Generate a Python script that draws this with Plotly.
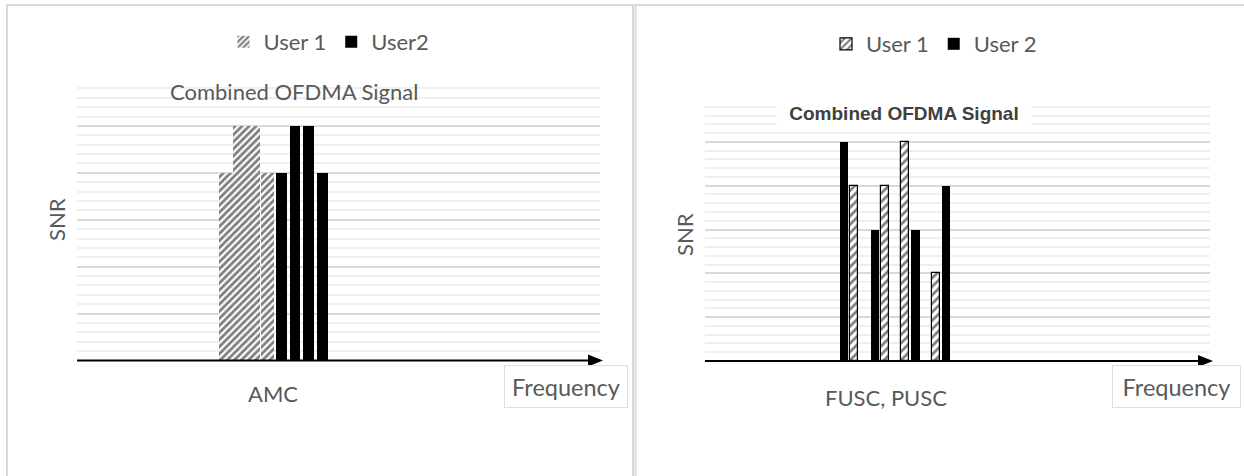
import plotly.graph_objects as go

W, H = 1244, 476

# ---------------- data ----------------
left_slots = ["SC1", "SC2", "SC3", "SC4", "SC5", "SC6", "SC7", "SC8"]
left_user1 = [4, 5, 5, 4, None, None, None, None]
left_user2 = [None, None, None, None, 4, 5, 5, 4]

right_slots = ["SC1", "SC2", "SC3", "SC4", "SC5", "SC6", "SC7", "SC8", "SC9", "SC10", "SC11"]
right_user1 = [None, 4, None, None, 4, None, 5, None, None, 2, None]
right_user2 = [5, None, None, 3, None, None, None, 3, None, None, 4]

left_names = ["User 1", "User2"]
right_names = ["User 1", "User 2"]
left_category = "AMC"
right_category = "FUSC, PUSC"
title_text = "Combined OFDMA Signal"
y_title = "SNR"
x_title = "Frequency"


def px(x):
    return x / W


def py(y):
    return 1 - y / H


GRAY = "#595959"
FONT = "Lato"

fig = go.Figure()

# left panel bars
fig.add_trace(go.Bar(
    x=left_slots, y=left_user1, name=left_names[0], width=0.97,
    marker=dict(color="white", line=dict(width=0),
                pattern=dict(shape="/", fgcolor="black", bgcolor="white", size=5, solidity=0.55)),
    xaxis="x", yaxis="y", legend="legend"))
fig.add_trace(go.Bar(
    x=left_slots, y=left_user2, name=left_names[1], width=0.78,
    marker=dict(color="black", line=dict(width=0)),
    xaxis="x", yaxis="y", legend="legend"))

# right panel bars
fig.add_trace(go.Bar(
    x=right_slots, y=right_user1, name=right_names[0], width=0.82,
    marker=dict(color="white", line=dict(width=1.2, color="black"),
                pattern=dict(shape="/", fgcolor="black", bgcolor="white", size=6, solidity=0.45)),
    xaxis="x2", yaxis="y2", legend="legend2"))
fig.add_trace(go.Bar(
    x=right_slots, y=right_user2, name=right_names[1], width=0.8,
    marker=dict(color="black", line=dict(width=0)),
    xaxis="x2", yaxis="y2", legend="legend2"))

yaxis_common = dict(
    range=[0, 6], dtick=1, showgrid=True, gridcolor="#d9d9d9", gridwidth=2,
    minor=dict(dtick=0.2, showgrid=True, gridcolor="#efefef", gridwidth=1.5),
    showticklabels=False, ticks="", zeroline=False, showline=False,
)
xaxis_common = dict(type="category", showticklabels=False, ticks="", showgrid=False,
                    zeroline=False, showline=False)

L_x0, L_x1, L_y0, L_y1 = 77, 600, 360.5, 79
R_x0, R_x1, R_y0, R_y1 = 705, 1210, 361, 98

fig.update_layout(
    width=W, height=H,
    margin=dict(l=0, r=0, t=0, b=0),
    paper_bgcolor="white", plot_bgcolor="white",
    barmode="overlay", bargap=0,
    xaxis=dict(domain=[px(L_x0), px(L_x1)], range=[-10.80, 27.10], anchor="y", **xaxis_common),
    yaxis=dict(domain=[py(L_y0), py(L_y1)], anchor="x", **yaxis_common),
    xaxis2=dict(domain=[px(R_x0), px(R_x1)], range=[-13.63, 35.88], anchor="y2", **xaxis_common),
    yaxis2=dict(domain=[py(R_y0), py(R_y1)], anchor="x2", **yaxis_common),
    legend=dict(orientation="h", x=px(329), xanchor="center", y=py(42), yanchor="middle",
                font=dict(family=FONT, size=22, color=GRAY), bgcolor="rgba(0,0,0,0)",
                itemclick=False, itemdoubleclick=False),
    legend2=dict(orientation="h", x=px(934), xanchor="center", y=py(44), yanchor="middle",
                 font=dict(family=FONT, size=22, color=GRAY), bgcolor="rgba(0,0,0,0)",
                 itemclick=False, itemdoubleclick=False),
)

shapes = []
# panel frames
shapes.append(dict(type="rect", xref="paper", yref="paper", x0=px(7), x1=px(633), y0=py(5), y1=py(490),
                   line=dict(color="#d9d9d9", width=2), fillcolor="rgba(0,0,0,0)", layer="below"))
shapes.append(dict(type="rect", xref="paper", yref="paper", x0=px(635.5), x1=px(1260), y0=py(5), y1=py(490),
                   line=dict(color="#d9d9d9", width=2), fillcolor="rgba(0,0,0,0)", layer="below"))
# axis lines with arrow heads
for (x0, x1, yb) in [(L_x0, 590, L_y0), (R_x0, 1199, R_y0)]:
    shapes.append(dict(type="line", xref="paper", yref="paper", x0=px(x0), x1=px(x1), y0=py(yb), y1=py(yb),
                       line=dict(color="black", width=2.2)))
for (tip, yb) in [(603, L_y0), (1213, R_y0)]:
    path = f"M {px(tip)},{py(yb)} L {px(tip-15)},{py(yb-6)} L {px(tip-15)},{py(yb+6)} Z"
    shapes.append(dict(type="path", xref="paper", yref="paper", path=path,
                       fillcolor="black", line=dict(color="black", width=0)))
fig.update_layout(shapes=shapes)


def note(text, x, y, **kw):
    d = dict(text=text, x=px(x), y=py(y), xref="paper", yref="paper", showarrow=False,
             xanchor="center", yanchor="middle")
    d.update(kw)
    return d


ann = [
    note(title_text, 294, 92, font=dict(family=FONT, size=22, color=GRAY)),
    note("<b>" + title_text + "</b>", 904, 113, bgcolor="white", width=252, height=26,
         font=dict(family="Liberation Sans", size=19, color="#404040")),
    note(y_title, 56, 220, textangle=-90, font=dict(family=FONT, size=22, color=GRAY)),
    note(y_title, 684, 234, textangle=-90, font=dict(family=FONT, size=22, color=GRAY)),
    note(left_category, 273, 393, font=dict(family=FONT, size=22, color=GRAY)),
    note(right_category, 886, 397, font=dict(family=FONT, size=22, color=GRAY)),
    note(x_title, 566, 386, width=122, height=41, borderpad=0, bgcolor="white",
         bordercolor="#dedede", borderwidth=1, font=dict(family=FONT, size=23.5, color=GRAY)),
    note(x_title, 1176, 386, width=127, height=41, borderpad=0, bgcolor="white",
         bordercolor="#dedede", borderwidth=1, font=dict(family=FONT, size=23.5, color=GRAY)),
]
fig.update_layout(annotations=ann)

fig.write_html("out.html")
